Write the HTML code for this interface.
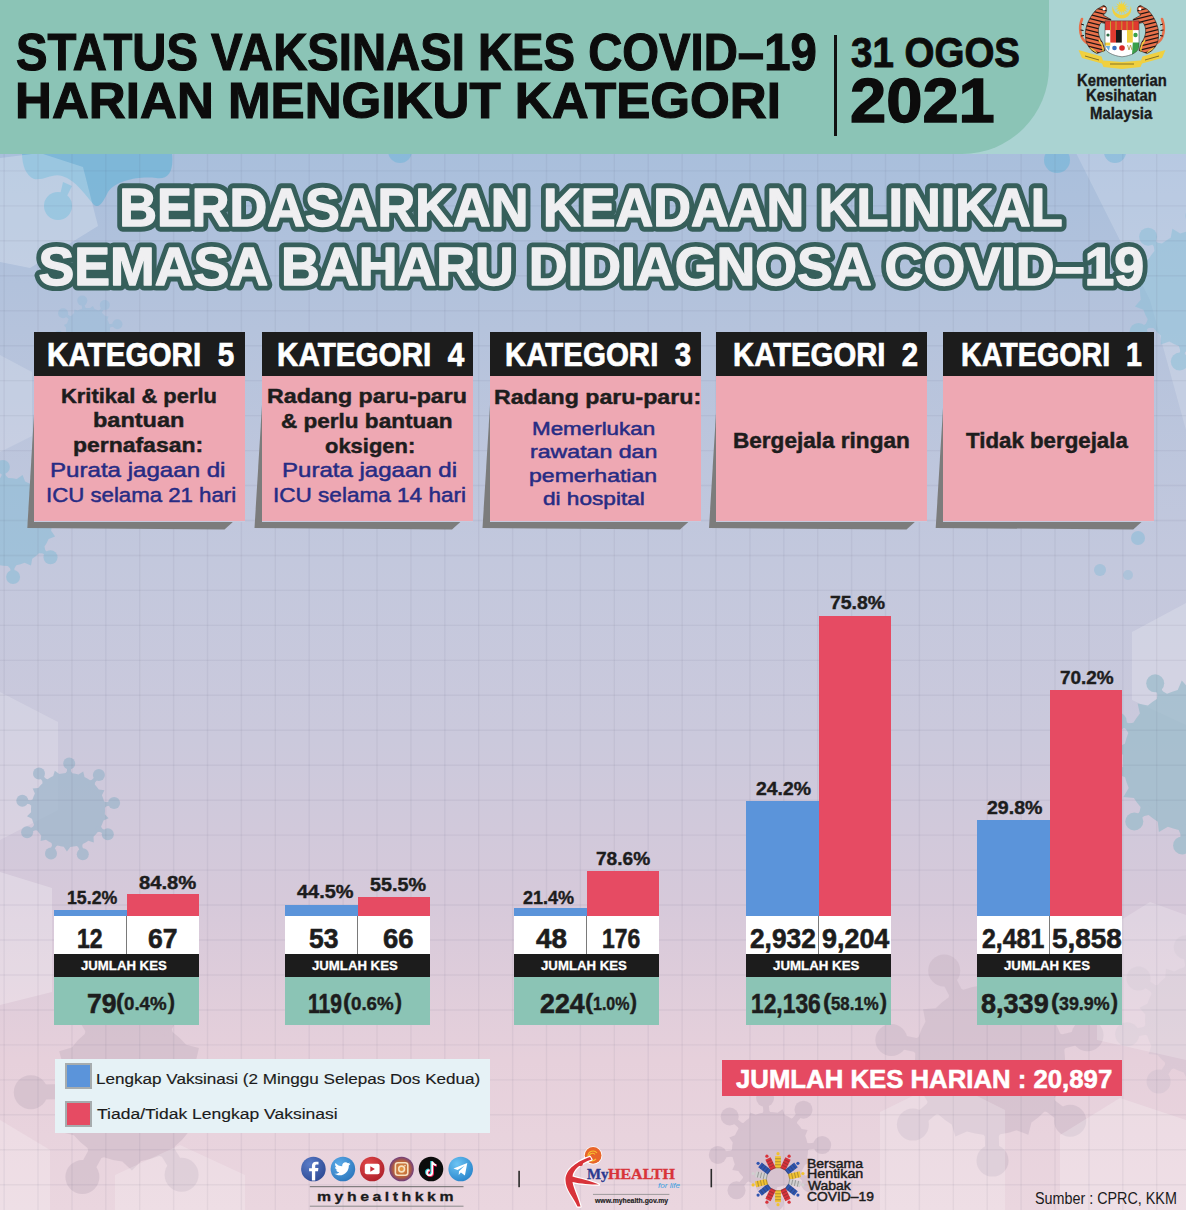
<!DOCTYPE html>
<html><head><meta charset="utf-8">
<style>
html,body{margin:0;padding:0;}
body{width:1186px;height:1210px;position:relative;overflow:hidden;font-family:"Liberation Sans",sans-serif;
background:linear-gradient(180deg,#a9bfdc 0px,#a9bfdc 150px,#b5c3dc 330px,#c3c8dd 560px,#cbc9dc 740px,#d6c9da 900px,#e6d0db 1060px,#ead6df 1210px);}
.t{position:absolute;white-space:nowrap;line-height:1;transform-origin:0 0;}
.a{position:absolute;}
#hdr{position:absolute;left:0;top:0;width:1186px;height:153.8px;background:#aad3d2;}
#hdr2{position:absolute;left:0;top:0;width:1049px;height:153.8px;background:#8bc4b6;border-bottom-right-radius:87px;}
.hd{position:absolute;top:331.5px;width:210.8px;height:44.5px;background:#1c1c1c;}
.pk{position:absolute;top:376px;width:210.8px;height:144.5px;background:#eea8b3;}
.gp{position:absolute;top:520.5px;width:210.8px;height:1.5px;background:#c5cbdf;}
.bl{position:absolute;background:#5b94da;}
.rd{position:absolute;background:#e64b63;}
.wc{position:absolute;top:916px;width:145px;height:38px;background:#fff;}
.dv{position:absolute;top:916px;width:1.2px;height:38px;background:#7a7a7a;}
.bk{position:absolute;top:954px;width:145px;height:23px;background:#1c1c1c;}
.tl{position:absolute;top:977px;width:145px;height:48px;background:#8bc4b5;}
</style></head><body>
<svg class="a" style="left:0;top:0" width="1186" height="1210">
<g fill="#74b6d8" opacity=".8"><path d="M22 153C22 165 26 176 34 179C44 181 52 173 62 176C76 180 86 196 94 205C100 209 104 200 108 192C116 180 140 176 156 178C168 180 174 172 172 153Z"/><path d="M63 182L72 186 66 198 60 195Z"/><circle cx="58" cy="206" r="14"/></g>
<polygon points="0,158 40,153 83,167 98,226 30,268 0,262" fill="#ffffff" opacity=".22"/>
<circle cx="400" cy="151" r="12" fill="#74b6d8" opacity=".6"/>
<g fill="#8ab8d8" stroke="#8ab8d8" opacity="0.35">
<polygon points="112.1,334.9 109.0,336.5 108.3,338.5 107.4,340.4 108.4,343.8 105.0,344.0 103.5,345.6 101.9,347.1 101.6,350.5 98.3,349.4 96.3,350.4 94.3,351.1 92.7,354.2 90.1,351.9 87.9,352.0 85.8,351.9 83.1,354.1 81.5,351.0 79.5,350.3 77.6,349.4 74.2,350.4 74.0,347.0 72.4,345.5 70.9,343.9 67.5,343.6 68.6,340.3 67.6,338.3 66.9,336.3 63.8,334.7 66.1,332.1 66.0,329.9 66.1,327.8 63.9,325.1 67.0,323.5 67.7,321.5 68.6,319.6 67.6,316.2 71.0,316.0 72.5,314.4 74.1,312.9 74.4,309.5 77.7,310.6 79.7,309.6 81.7,308.9 83.3,305.8 85.9,308.1 88.1,308.0 90.2,308.1 92.9,305.9 94.5,309.0 96.5,309.7 98.4,310.6 101.8,309.6 102.0,313.0 103.6,314.5 105.1,316.1 108.5,316.4 107.4,319.7 108.4,321.7 109.1,323.7 112.2,325.3 109.9,327.9 110.0,330.1 109.9,332.2" stroke="none"/>
<line x1="104.4" y1="341.1" x2="112.9" y2="346.8" stroke-width="3.0"/>
<circle cx="112.9" cy="346.8" r="5.0" stroke="none"/>
<line x1="91.8" y1="349.4" x2="93.7" y2="359.4" stroke-width="3.0"/>
<circle cx="93.7" cy="359.4" r="5.0" stroke="none"/>
<line x1="76.9" y1="346.4" x2="71.2" y2="354.9" stroke-width="3.0"/>
<circle cx="71.2" cy="354.9" r="5.0" stroke="none"/>
<line x1="68.6" y1="333.8" x2="58.6" y2="335.7" stroke-width="3.0"/>
<circle cx="58.6" cy="335.7" r="5.0" stroke="none"/>
<line x1="71.6" y1="318.9" x2="63.1" y2="313.2" stroke-width="3.0"/>
<circle cx="63.1" cy="313.2" r="5.0" stroke="none"/>
<line x1="84.2" y1="310.6" x2="82.3" y2="300.6" stroke-width="3.0"/>
<circle cx="82.3" cy="300.6" r="5.0" stroke="none"/>
<line x1="99.1" y1="313.6" x2="104.8" y2="305.1" stroke-width="3.0"/>
<circle cx="104.8" cy="305.1" r="5.0" stroke="none"/>
<line x1="107.4" y1="326.2" x2="117.4" y2="324.3" stroke-width="3.0"/>
<circle cx="117.4" cy="324.3" r="5.0" stroke="none"/>
</g>
<polygon points="0,355 32,372 32,436 0,452" fill="#ffffff" opacity=".17"/>
<polygon points="1076,153 1186,153 1186,430 1150,300" fill="#ffffff" opacity=".17"/>
<g fill="#8cc0d8" stroke="#8cc0d8" opacity="0.55">
<polygon points="1266.9,296.7 1259.0,301.2 1257.8,306.3 1256.1,311.2 1260.5,319.2 1251.6,320.7 1248.7,325.0 1245.5,329.1 1246.9,338.1 1238.0,336.5 1233.8,339.6 1229.3,342.3 1227.6,351.3 1219.8,346.6 1214.8,348.1 1209.7,349.2 1205.0,357.0 1199.2,350.0 1194.0,349.7 1188.8,349.0 1181.8,354.7 1178.8,346.1 1174.0,344.1 1169.3,341.6 1160.8,344.6 1160.9,335.5 1157.0,331.9 1153.5,328.0 1144.5,327.8 1147.7,319.3 1145.3,314.7 1143.4,309.8 1134.9,306.6 1140.8,299.7 1140.2,294.5 1140.0,289.2 1133.1,283.3 1141.0,278.8 1142.2,273.7 1143.9,268.8 1139.5,260.8 1148.4,259.3 1151.3,255.0 1154.5,250.9 1153.1,241.9 1162.0,243.5 1166.2,240.4 1170.7,237.7 1172.4,228.7 1180.2,233.4 1185.2,231.9 1190.3,230.8 1195.0,223.0 1200.8,230.0 1206.0,230.3 1211.2,231.0 1218.2,225.3 1221.2,233.9 1226.0,235.9 1230.7,238.4 1239.2,235.4 1239.1,244.5 1243.0,248.1 1246.5,252.0 1255.5,252.2 1252.3,260.7 1254.7,265.3 1256.6,270.2 1265.1,273.4 1259.2,280.3 1259.8,285.5 1260.0,290.8" stroke="none"/>
<line x1="1248.6" y1="313.4" x2="1267.0" y2="322.3" stroke-width="5.0"/>
<circle cx="1267.0" cy="322.3" r="9.0" stroke="none"/>
<line x1="1222.2" y1="339.2" x2="1230.6" y2="357.8" stroke-width="5.0"/>
<circle cx="1230.6" cy="357.8" r="9.0" stroke="none"/>
<line x1="1185.4" y1="342.0" x2="1179.8" y2="361.6" stroke-width="5.0"/>
<circle cx="1179.8" cy="361.6" r="9.0" stroke="none"/>
<line x1="1155.4" y1="320.4" x2="1138.5" y2="331.9" stroke-width="5.0"/>
<circle cx="1138.5" cy="331.9" r="9.0" stroke="none"/>
<line x1="1146.3" y1="284.6" x2="1126.0" y2="282.6" stroke-width="5.0"/>
<circle cx="1126.0" cy="282.6" r="9.0" stroke="none"/>
<line x1="1162.3" y1="251.3" x2="1148.1" y2="236.7" stroke-width="5.0"/>
<circle cx="1148.1" cy="236.7" r="9.0" stroke="none"/>
<line x1="1196.0" y1="236.1" x2="1194.5" y2="215.8" stroke-width="5.0"/>
<circle cx="1194.5" cy="215.8" r="9.0" stroke="none"/>
<line x1="1231.5" y1="246.2" x2="1243.4" y2="229.6" stroke-width="5.0"/>
<circle cx="1243.4" cy="229.6" r="9.0" stroke="none"/>
<line x1="1252.3" y1="276.7" x2="1272.1" y2="271.7" stroke-width="5.0"/>
<circle cx="1272.1" cy="271.7" r="9.0" stroke="none"/>
</g>
<circle cx="1057" cy="160" r="13" fill="#6fb6d8" opacity=".6"/><circle cx="1115" cy="152" r="11" fill="#6fb6d8" opacity=".5"/>
<circle cx="1138" cy="538" r="7" fill="#8cbcd8" opacity=".6"/><circle cx="1100" cy="570" r="6" fill="#8cbcd8" opacity=".5"/><circle cx="1128" cy="575" r="5" fill="#8cbcd8" opacity=".4"/>
<g fill="#86bcd6" stroke="#86bcd6" opacity="0.55">
<polygon points="55.1,536.6 48.6,539.1 46.7,543.0 44.5,546.6 45.9,553.5 38.9,553.3 35.7,556.2 32.2,558.7 31.0,565.6 24.6,562.7 20.5,564.2 16.3,565.2 12.6,571.1 7.8,566.0 3.4,565.8 -0.8,565.1 -6.6,569.1 -9.1,562.6 -13.0,560.7 -16.6,558.5 -23.5,559.9 -23.3,552.9 -26.2,549.7 -28.7,546.2 -35.6,545.0 -32.7,538.6 -34.2,534.5 -35.2,530.3 -41.1,526.6 -36.0,521.8 -35.8,517.4 -35.1,513.2 -39.1,507.4 -32.6,504.9 -30.7,501.0 -28.5,497.4 -29.9,490.5 -22.9,490.7 -19.7,487.8 -16.2,485.3 -15.0,478.4 -8.6,481.3 -4.5,479.8 -0.3,478.8 3.4,472.9 8.2,478.0 12.6,478.2 16.8,478.9 22.6,474.9 25.1,481.4 29.0,483.3 32.6,485.5 39.5,484.1 39.3,491.1 42.2,494.3 44.7,497.8 51.6,499.0 48.7,505.4 50.2,509.5 51.2,513.7 57.1,517.4 52.0,522.2 51.8,526.6 51.1,530.8" stroke="none"/>
<line x1="38.5" y1="547.3" x2="50.5" y2="557.3" stroke-width="4.0"/>
<circle cx="50.5" cy="557.3" r="7.0" stroke="none"/>
<line x1="11.7" y1="561.4" x2="13.1" y2="577.0" stroke-width="4.0"/>
<circle cx="13.1" cy="577.0" r="7.0" stroke="none"/>
<line x1="-17.3" y1="552.5" x2="-27.3" y2="564.5" stroke-width="4.0"/>
<circle cx="-27.3" cy="564.5" r="7.0" stroke="none"/>
<line x1="-31.4" y1="525.7" x2="-47.0" y2="527.1" stroke-width="4.0"/>
<circle cx="-47.0" cy="527.1" r="7.0" stroke="none"/>
<line x1="-22.5" y1="496.7" x2="-34.5" y2="486.7" stroke-width="4.0"/>
<circle cx="-34.5" cy="486.7" r="7.0" stroke="none"/>
<line x1="4.3" y1="482.6" x2="2.9" y2="467.0" stroke-width="4.0"/>
<circle cx="2.9" cy="467.0" r="7.0" stroke="none"/>
<line x1="33.3" y1="491.5" x2="43.3" y2="479.5" stroke-width="4.0"/>
<circle cx="43.3" cy="479.5" r="7.0" stroke="none"/>
<line x1="47.4" y1="518.3" x2="63.0" y2="516.9" stroke-width="4.0"/>
<circle cx="63.0" cy="516.9" r="7.0" stroke="none"/>
</g>
<polygon points="0,692 58,722 58,810 0,840" fill="#ffffff" opacity=".18"/>
<g fill="#9fb7cc" stroke="#9fb7cc" opacity="0.75">
<polygon points="108.6,818.2 103.5,820.5 102.4,823.5 101.1,826.5 103.3,831.6 97.8,832.0 95.7,834.5 93.5,836.8 93.8,842.4 88.4,840.8 85.7,842.5 82.8,843.9 81.2,849.3 76.7,846.0 73.5,846.6 70.3,846.9 66.9,851.4 63.8,846.8 60.6,846.3 57.5,845.5 52.8,848.6 51.5,843.1 48.7,841.6 46.0,839.8 40.6,841.1 41.2,835.5 39.1,833.1 37.2,830.4 31.6,829.8 34.1,824.8 32.9,821.8 32.0,818.7 27.0,816.2 31.1,812.3 31.0,809.1 31.2,805.8 27.4,801.8 32.5,799.5 33.6,796.5 34.9,793.5 32.7,788.4 38.2,788.0 40.3,785.5 42.5,783.2 42.2,777.6 47.6,779.2 50.3,777.5 53.2,776.1 54.8,770.7 59.3,774.0 62.5,773.4 65.7,773.1 69.1,768.6 72.2,773.2 75.4,773.7 78.5,774.5 83.2,771.4 84.5,776.9 87.3,778.4 90.0,780.2 95.4,778.9 94.8,784.5 96.9,786.9 98.8,789.6 104.4,790.2 101.9,795.2 103.1,798.2 104.0,801.3 109.0,803.8 104.9,807.7 105.0,810.9 104.8,814.2" stroke="none"/>
<line x1="96.4" y1="827.4" x2="107.8" y2="834.3" stroke-width="4.0"/>
<circle cx="107.8" cy="834.3" r="6.0" stroke="none"/>
<line x1="78.6" y1="841.6" x2="82.8" y2="854.2" stroke-width="4.0"/>
<circle cx="82.8" cy="854.2" r="6.0" stroke="none"/>
<line x1="55.8" y1="841.0" x2="51.0" y2="853.4" stroke-width="4.0"/>
<circle cx="51.0" cy="853.4" r="6.0" stroke="none"/>
<line x1="38.7" y1="825.9" x2="27.1" y2="832.3" stroke-width="4.0"/>
<circle cx="27.1" cy="832.3" r="6.0" stroke="none"/>
<line x1="35.4" y1="803.4" x2="22.3" y2="800.7" stroke-width="4.0"/>
<circle cx="22.3" cy="800.7" r="6.0" stroke="none"/>
<line x1="47.3" y1="784.0" x2="39.0" y2="773.6" stroke-width="4.0"/>
<circle cx="39.0" cy="773.6" r="6.0" stroke="none"/>
<line x1="68.8" y1="776.7" x2="69.2" y2="763.4" stroke-width="4.0"/>
<circle cx="69.2" cy="763.4" r="6.0" stroke="none"/>
<line x1="90.0" y1="785.0" x2="98.9" y2="775.1" stroke-width="4.0"/>
<circle cx="98.9" cy="775.1" r="6.0" stroke="none"/>
<line x1="100.9" y1="805.1" x2="114.1" y2="803.1" stroke-width="4.0"/>
<circle cx="114.1" cy="803.1" r="6.0" stroke="none"/>
</g>
<polygon points="1132,632 1186,603 1186,725 1132,700" fill="#ffffff" opacity=".2"/>
<g fill="#9cbccb" stroke="#9cbccb" opacity="0.75">
<polygon points="1274.7,772.1 1265.1,776.3 1263.6,781.8 1261.7,787.1 1267.1,796.1 1256.7,797.2 1253.5,801.9 1250.1,806.4 1252.4,816.6 1242.1,814.4 1237.7,817.9 1233.1,821.1 1232.1,831.6 1223.0,826.3 1217.7,828.3 1212.3,829.9 1208.2,839.6 1201.2,831.7 1195.5,832.0 1189.9,831.8 1182.9,839.7 1178.7,830.1 1173.2,828.6 1167.9,826.7 1158.9,832.1 1157.8,821.7 1153.1,818.5 1148.6,815.1 1138.4,817.4 1140.6,807.1 1137.1,802.7 1133.9,798.1 1123.4,797.1 1128.7,788.0 1126.7,782.7 1125.1,777.3 1115.4,773.2 1123.3,766.2 1123.0,760.5 1123.2,754.9 1115.3,747.9 1124.9,743.7 1126.4,738.2 1128.3,732.9 1122.9,723.9 1133.3,722.8 1136.5,718.1 1139.9,713.6 1137.6,703.4 1147.9,705.6 1152.3,702.1 1156.9,698.9 1157.9,688.4 1167.0,693.7 1172.3,691.7 1177.7,690.1 1181.8,680.4 1188.8,688.3 1194.5,688.0 1200.1,688.2 1207.1,680.3 1211.3,689.9 1216.8,691.4 1222.1,693.3 1231.1,687.9 1232.2,698.3 1236.9,701.5 1241.4,704.9 1251.6,702.6 1249.4,712.9 1252.9,717.3 1256.1,721.9 1266.6,722.9 1261.3,732.0 1263.3,737.3 1264.9,742.7 1274.6,746.8 1266.7,753.8 1267.0,759.5 1266.8,765.1" stroke="none"/>
<line x1="1252.9" y1="789.0" x2="1272.3" y2="798.7" stroke-width="6.0"/>
<circle cx="1272.3" cy="798.7" r="9.0" stroke="none"/>
<line x1="1224.8" y1="817.5" x2="1234.8" y2="836.7" stroke-width="6.0"/>
<circle cx="1234.8" cy="836.7" r="9.0" stroke="none"/>
<line x1="1185.3" y1="824.1" x2="1182.1" y2="845.4" stroke-width="6.0"/>
<circle cx="1182.1" cy="845.4" r="9.0" stroke="none"/>
<line x1="1149.5" y1="806.1" x2="1134.3" y2="821.5" stroke-width="6.0"/>
<circle cx="1134.3" cy="821.5" r="9.0" stroke="none"/>
<line x1="1131.1" y1="770.6" x2="1109.8" y2="774.1" stroke-width="6.0"/>
<circle cx="1109.8" cy="774.1" r="9.0" stroke="none"/>
<line x1="1137.1" y1="731.0" x2="1117.7" y2="721.3" stroke-width="6.0"/>
<circle cx="1117.7" cy="721.3" r="9.0" stroke="none"/>
<line x1="1165.2" y1="702.5" x2="1155.2" y2="683.3" stroke-width="6.0"/>
<circle cx="1155.2" cy="683.3" r="9.0" stroke="none"/>
<line x1="1204.7" y1="695.9" x2="1207.9" y2="674.6" stroke-width="6.0"/>
<circle cx="1207.9" cy="674.6" r="9.0" stroke="none"/>
<line x1="1240.5" y1="713.9" x2="1255.7" y2="698.5" stroke-width="6.0"/>
<circle cx="1255.7" cy="698.5" r="9.0" stroke="none"/>
<line x1="1258.9" y1="749.4" x2="1280.2" y2="745.9" stroke-width="6.0"/>
<circle cx="1280.2" cy="745.9" r="9.0" stroke="none"/>
</g>
<polygon points="0,872 52,888 52,992 0,1005" fill="#ffffff" opacity=".25"/>
<g fill="#c9b6c4" stroke="#c9b6c4" opacity="0.5">
<polygon points="200.8,1128.7 188.1,1132.5 182.1,1139.7 175.2,1146.1 172.0,1158.9 159.1,1155.9 150.3,1159.1 141.1,1161.1 131.9,1170.6 122.3,1161.6 113.0,1160.0 104.0,1157.2 91.3,1160.8 87.5,1148.1 80.3,1142.1 73.9,1135.2 61.1,1132.0 64.1,1119.1 60.9,1110.3 58.9,1101.1 49.4,1091.9 58.4,1082.3 60.0,1073.0 62.8,1064.0 59.2,1051.3 71.9,1047.5 77.9,1040.3 84.8,1033.9 88.0,1021.1 100.9,1024.1 109.7,1020.9 118.9,1018.9 128.1,1009.4 137.7,1018.4 147.0,1020.0 156.0,1022.8 168.7,1019.2 172.5,1031.9 179.7,1037.9 186.1,1044.8 198.9,1048.0 195.9,1060.9 199.1,1069.7 201.1,1078.9 210.6,1088.1 201.6,1097.7 200.0,1107.0 197.2,1116.0" stroke="none"/>
<line x1="163.7" y1="1145.3" x2="181.6" y2="1174.7" stroke-width="15.0"/>
<circle cx="181.6" cy="1174.7" r="17.0" stroke="none"/>
<line x1="98.9" y1="1146.9" x2="82.4" y2="1177.1" stroke-width="15.0"/>
<circle cx="82.4" cy="1177.1" r="17.0" stroke="none"/>
<line x1="65.2" y1="1091.5" x2="30.8" y2="1092.3" stroke-width="15.0"/>
<circle cx="30.8" cy="1092.3" r="17.0" stroke="none"/>
<line x1="96.3" y1="1034.7" x2="78.4" y2="1005.3" stroke-width="15.0"/>
<circle cx="78.4" cy="1005.3" r="17.0" stroke="none"/>
<line x1="161.1" y1="1033.1" x2="177.6" y2="1002.9" stroke-width="15.0"/>
<circle cx="177.6" cy="1002.9" r="17.0" stroke="none"/>
<line x1="194.8" y1="1088.5" x2="229.2" y2="1087.7" stroke-width="15.0"/>
<circle cx="229.2" cy="1087.7" r="17.0" stroke="none"/>
</g>
<polygon points="0,1120 50,1150 50,1210 0,1210" fill="#ffffff" opacity=".22"/>
<polygon points="115,1175 180,1145 245,1175 245,1210 115,1210" fill="#ffffff" opacity=".2"/>
<g fill="#c9b7c6" stroke="#c9b7c6" opacity="0.5">
<polygon points="1072.3,1076.7 1061.4,1083.0 1058.3,1090.9 1054.5,1098.3 1056.9,1110.8 1044.3,1111.7 1038.2,1117.5 1031.4,1122.5 1028.3,1134.8 1016.5,1130.2 1008.5,1132.7 1000.2,1134.3 992.0,1144.0 983.4,1134.7 975.1,1133.5 967.0,1131.4 955.4,1136.5 951.7,1124.5 944.7,1119.8 938.3,1114.3 925.6,1114.0 927.5,1101.4 923.2,1094.2 919.8,1086.5 908.6,1080.7 915.7,1070.2 915.0,1061.8 915.3,1053.4 907.7,1043.3 918.6,1037.0 921.7,1029.1 925.5,1021.7 923.1,1009.2 935.7,1008.3 941.8,1002.5 948.6,997.5 951.7,985.2 963.5,989.8 971.5,987.3 979.8,985.7 988.0,976.0 996.6,985.3 1004.9,986.5 1013.0,988.6 1024.6,983.5 1028.3,995.5 1035.3,1000.2 1041.7,1005.7 1054.4,1006.0 1052.5,1018.6 1056.8,1025.8 1060.2,1033.5 1071.4,1039.3 1064.3,1049.8 1065.0,1058.2 1064.7,1066.6" stroke="none"/>
<line x1="1043.8" y1="1100.8" x2="1070.2" y2="1120.8" stroke-width="14.0"/>
<circle cx="1070.2" cy="1120.8" r="16.0" stroke="none"/>
<line x1="991.6" y1="1127.5" x2="992.5" y2="1160.6" stroke-width="14.0"/>
<circle cx="992.5" cy="1160.6" r="16.0" stroke="none"/>
<line x1="938.3" y1="1103.4" x2="912.9" y2="1124.6" stroke-width="14.0"/>
<circle cx="912.9" cy="1124.6" r="16.0" stroke="none"/>
<line x1="923.8" y1="1046.6" x2="891.4" y2="1040.0" stroke-width="14.0"/>
<circle cx="891.4" cy="1040.0" r="16.0" stroke="none"/>
<line x1="959.2" y1="999.9" x2="944.2" y2="970.5" stroke-width="14.0"/>
<circle cx="944.2" cy="970.5" r="16.0" stroke="none"/>
<line x1="1017.8" y1="998.5" x2="1031.4" y2="968.3" stroke-width="14.0"/>
<circle cx="1031.4" cy="968.3" r="16.0" stroke="none"/>
<line x1="1055.4" y1="1043.4" x2="1087.5" y2="1035.2" stroke-width="14.0"/>
<circle cx="1087.5" cy="1035.2" r="16.0" stroke="none"/>
</g>
<g fill="#c6b2c2" stroke="#c6b2c2" opacity="0.5">
<polygon points="810.7,1162.6 805.0,1164.7 803.4,1168.1 801.5,1171.3 802.8,1177.2 796.7,1177.0 793.9,1179.5 790.9,1181.7 789.9,1187.6 784.3,1185.2 780.8,1186.4 777.2,1187.3 773.9,1192.4 769.8,1188.0 766.1,1187.8 762.4,1187.2 757.4,1190.7 755.3,1185.0 751.9,1183.4 748.7,1181.5 742.8,1182.8 743.0,1176.7 740.5,1173.9 738.3,1170.9 732.4,1169.9 734.8,1164.3 733.6,1160.8 732.7,1157.2 727.6,1153.9 732.0,1149.8 732.2,1146.1 732.8,1142.4 729.3,1137.4 735.0,1135.3 736.6,1131.9 738.5,1128.7 737.2,1122.8 743.3,1123.0 746.1,1120.5 749.1,1118.3 750.1,1112.4 755.7,1114.8 759.2,1113.6 762.8,1112.7 766.1,1107.6 770.2,1112.0 773.9,1112.2 777.6,1112.8 782.6,1109.3 784.7,1115.0 788.1,1116.6 791.3,1118.5 797.2,1117.2 797.0,1123.3 799.5,1126.1 801.7,1129.1 807.6,1130.1 805.2,1135.7 806.4,1139.2 807.3,1142.8 812.4,1146.1 808.0,1150.2 807.8,1153.9 807.2,1157.6" stroke="none"/>
<line x1="796.3" y1="1171.8" x2="810.3" y2="1183.5" stroke-width="6.0"/>
<circle cx="810.3" cy="1183.5" r="9.0" stroke="none"/>
<line x1="773.2" y1="1184.1" x2="774.9" y2="1202.2" stroke-width="6.0"/>
<circle cx="774.9" cy="1202.2" r="9.0" stroke="none"/>
<line x1="748.2" y1="1176.3" x2="736.5" y2="1190.3" stroke-width="6.0"/>
<circle cx="736.5" cy="1190.3" r="9.0" stroke="none"/>
<line x1="735.9" y1="1153.2" x2="717.8" y2="1154.9" stroke-width="6.0"/>
<circle cx="717.8" cy="1154.9" r="9.0" stroke="none"/>
<line x1="743.7" y1="1128.2" x2="729.7" y2="1116.5" stroke-width="6.0"/>
<circle cx="729.7" cy="1116.5" r="9.0" stroke="none"/>
<line x1="766.8" y1="1115.9" x2="765.1" y2="1097.8" stroke-width="6.0"/>
<circle cx="765.1" cy="1097.8" r="9.0" stroke="none"/>
<line x1="791.8" y1="1123.7" x2="803.5" y2="1109.7" stroke-width="6.0"/>
<circle cx="803.5" cy="1109.7" r="9.0" stroke="none"/>
<line x1="804.1" y1="1146.8" x2="822.2" y2="1145.1" stroke-width="6.0"/>
<circle cx="822.2" cy="1145.1" r="9.0" stroke="none"/>
</g>
<polygon points="880,1112 945,1080 1005,1110 1005,1210 880,1210" fill="#ffffff" opacity=".2"/>
<polygon points="1060,1135 1120,1098 1186,1120 1186,1210 1060,1210" fill="#ffffff" opacity=".22"/>
<g fill="#c8bccb" stroke="#c8bccb" opacity="0.35">
<polygon points="1260.4,1032.2 1252.6,1036.2 1250.7,1041.2 1248.4,1046.1 1251.1,1054.4 1242.4,1055.0 1238.7,1059.0 1234.7,1062.6 1234.0,1071.3 1225.7,1068.6 1220.9,1070.9 1215.8,1072.7 1211.8,1080.5 1205.2,1074.8 1199.8,1075.0 1194.4,1074.7 1187.8,1080.4 1183.8,1072.6 1178.8,1070.7 1173.9,1068.4 1165.6,1071.1 1165.0,1062.4 1161.0,1058.7 1157.4,1054.7 1148.7,1054.0 1151.4,1045.7 1149.1,1040.9 1147.3,1035.8 1139.5,1031.8 1145.2,1025.2 1145.0,1019.8 1145.3,1014.4 1139.6,1007.8 1147.4,1003.8 1149.3,998.8 1151.6,993.9 1148.9,985.6 1157.6,985.0 1161.3,981.0 1165.3,977.4 1166.0,968.7 1174.3,971.4 1179.1,969.1 1184.2,967.3 1188.2,959.5 1194.8,965.2 1200.2,965.0 1205.6,965.3 1212.2,959.6 1216.2,967.4 1221.2,969.3 1226.1,971.6 1234.4,968.9 1235.0,977.6 1239.0,981.3 1242.6,985.3 1251.3,986.0 1248.6,994.3 1250.9,999.1 1252.7,1004.2 1260.5,1008.2 1254.8,1014.8 1255.0,1020.2 1254.7,1025.6" stroke="none"/>
<line x1="1241.1" y1="1047.7" x2="1261.5" y2="1061.4" stroke-width="8.0"/>
<circle cx="1261.5" cy="1061.4" r="12.0" stroke="none"/>
<line x1="1209.5" y1="1068.6" x2="1214.2" y2="1092.8" stroke-width="8.0"/>
<circle cx="1214.2" cy="1092.8" r="12.0" stroke="none"/>
<line x1="1172.3" y1="1061.1" x2="1158.6" y2="1081.5" stroke-width="8.0"/>
<circle cx="1158.6" cy="1081.5" r="12.0" stroke="none"/>
<line x1="1151.4" y1="1029.5" x2="1127.2" y2="1034.2" stroke-width="8.0"/>
<circle cx="1127.2" cy="1034.2" r="12.0" stroke="none"/>
<line x1="1158.9" y1="992.3" x2="1138.5" y2="978.6" stroke-width="8.0"/>
<circle cx="1138.5" cy="978.6" r="12.0" stroke="none"/>
<line x1="1190.5" y1="971.4" x2="1185.8" y2="947.2" stroke-width="8.0"/>
<circle cx="1185.8" cy="947.2" r="12.0" stroke="none"/>
<line x1="1227.7" y1="978.9" x2="1241.4" y2="958.5" stroke-width="8.0"/>
<circle cx="1241.4" cy="958.5" r="12.0" stroke="none"/>
<line x1="1248.6" y1="1010.5" x2="1272.8" y2="1005.8" stroke-width="8.0"/>
<circle cx="1272.8" cy="1005.8" r="12.0" stroke="none"/>
</g>
<polygon points="1097,935 1150,902 1186,915 1186,1060 1097,1040" fill="#ffffff" opacity=".2"/>
</svg>
<svg class="a" style="left:0;top:153px" width="1186" height="1057"><g stroke="rgb(80,70,110)" stroke-opacity=".065" stroke-width="1.4">
<line x1="4.10" y1="0" x2="4.10" y2="1057"/>
<line x1="38.00" y1="0" x2="38.00" y2="1057"/>
<line x1="71.90" y1="0" x2="71.90" y2="1057"/>
<line x1="105.80" y1="0" x2="105.80" y2="1057"/>
<line x1="139.70" y1="0" x2="139.70" y2="1057"/>
<line x1="173.60" y1="0" x2="173.60" y2="1057"/>
<line x1="207.50" y1="0" x2="207.50" y2="1057"/>
<line x1="241.40" y1="0" x2="241.40" y2="1057"/>
<line x1="275.30" y1="0" x2="275.30" y2="1057"/>
<line x1="309.20" y1="0" x2="309.20" y2="1057"/>
<line x1="343.10" y1="0" x2="343.10" y2="1057"/>
<line x1="377.00" y1="0" x2="377.00" y2="1057"/>
<line x1="410.90" y1="0" x2="410.90" y2="1057"/>
<line x1="444.80" y1="0" x2="444.80" y2="1057"/>
<line x1="478.70" y1="0" x2="478.70" y2="1057"/>
<line x1="512.60" y1="0" x2="512.60" y2="1057"/>
<line x1="546.50" y1="0" x2="546.50" y2="1057"/>
<line x1="580.40" y1="0" x2="580.40" y2="1057"/>
<line x1="614.30" y1="0" x2="614.30" y2="1057"/>
<line x1="648.20" y1="0" x2="648.20" y2="1057"/>
<line x1="682.10" y1="0" x2="682.10" y2="1057"/>
<line x1="716.00" y1="0" x2="716.00" y2="1057"/>
<line x1="749.90" y1="0" x2="749.90" y2="1057"/>
<line x1="783.80" y1="0" x2="783.80" y2="1057"/>
<line x1="817.70" y1="0" x2="817.70" y2="1057"/>
<line x1="851.60" y1="0" x2="851.60" y2="1057"/>
<line x1="885.50" y1="0" x2="885.50" y2="1057"/>
<line x1="919.40" y1="0" x2="919.40" y2="1057"/>
<line x1="953.30" y1="0" x2="953.30" y2="1057"/>
<line x1="987.20" y1="0" x2="987.20" y2="1057"/>
<line x1="1021.10" y1="0" x2="1021.10" y2="1057"/>
<line x1="1055.00" y1="0" x2="1055.00" y2="1057"/>
<line x1="1088.90" y1="0" x2="1088.90" y2="1057"/>
<line x1="1122.80" y1="0" x2="1122.80" y2="1057"/>
<line x1="1156.70" y1="0" x2="1156.70" y2="1057"/>
<line x1="0" y1="17.90" x2="1186" y2="17.90"/>
<line x1="0" y1="52.86" x2="1186" y2="52.86"/>
<line x1="0" y1="87.82" x2="1186" y2="87.82"/>
<line x1="0" y1="122.78" x2="1186" y2="122.78"/>
<line x1="0" y1="157.74" x2="1186" y2="157.74"/>
<line x1="0" y1="192.70" x2="1186" y2="192.70"/>
<line x1="0" y1="227.66" x2="1186" y2="227.66"/>
<line x1="0" y1="262.62" x2="1186" y2="262.62"/>
<line x1="0" y1="297.58" x2="1186" y2="297.58"/>
<line x1="0" y1="332.54" x2="1186" y2="332.54"/>
<line x1="0" y1="367.50" x2="1186" y2="367.50"/>
<line x1="0" y1="402.46" x2="1186" y2="402.46"/>
<line x1="0" y1="437.42" x2="1186" y2="437.42"/>
<line x1="0" y1="472.38" x2="1186" y2="472.38"/>
<line x1="0" y1="507.34" x2="1186" y2="507.34"/>
<line x1="0" y1="542.30" x2="1186" y2="542.30"/>
<line x1="0" y1="577.26" x2="1186" y2="577.26"/>
<line x1="0" y1="612.22" x2="1186" y2="612.22"/>
<line x1="0" y1="647.18" x2="1186" y2="647.18"/>
<line x1="0" y1="682.14" x2="1186" y2="682.14"/>
<line x1="0" y1="717.10" x2="1186" y2="717.10"/>
<line x1="0" y1="752.06" x2="1186" y2="752.06"/>
<line x1="0" y1="787.02" x2="1186" y2="787.02"/>
<line x1="0" y1="821.98" x2="1186" y2="821.98"/>
<line x1="0" y1="856.94" x2="1186" y2="856.94"/>
<line x1="0" y1="891.90" x2="1186" y2="891.90"/>
<line x1="0" y1="926.86" x2="1186" y2="926.86"/>
<line x1="0" y1="961.82" x2="1186" y2="961.82"/>
<line x1="0" y1="996.78" x2="1186" y2="996.78"/>
<line x1="0" y1="1031.74" x2="1186" y2="1031.74"/>
</g></svg>
<div id="hdr"></div>
<div id="hdr2"></div>
<div class="a" style="left:834px;top:35.4px;width:2.6px;height:100.6px;background:#111;"></div>
<!--LOGO-->
<svg class="a" style="left:0;top:0" width="1186" height="330"><g font-family="Liberation Sans" font-weight="bold">
<text transform="translate(119.2,226.3) scale(0.9591,1)" font-size="54.49" fill="none" stroke="#365f5b" stroke-width="11.47" stroke-linejoin="round">BERDASARKAN KEADAAN KLINIKAL</text>
<text transform="translate(119.2,226.3) scale(0.9591,1)" font-size="54.49" fill="#efeff1" stroke="#efeff1" stroke-width="1.36" stroke-linejoin="round">BERDASARKAN KEADAAN KLINIKAL</text>
<text transform="translate(38.5,284.7) scale(0.9908,1)" font-size="54.20" fill="none" stroke="#365f5b" stroke-width="11.10" stroke-linejoin="round">SEMASA BAHARU DIDIAGNOSA COVID&#8211;19</text>
<text transform="translate(38.5,284.7) scale(0.9908,1)" font-size="54.20" fill="#efeff1" stroke="#efeff1" stroke-width="1.31" stroke-linejoin="round">SEMASA BAHARU DIDIAGNOSA COVID&#8211;19</text>
</g></svg>
<svg class="a" style="left:0;top:0" width="1186" height="1210">
<g fill="#7c7c7c">
<polygon points="34.5,405 27.3,528 224.5,529.5 234.5,520.5 234.5,405"/>
<polygon points="262,405 254.5,528 452,529.5 462,520.5 462,405"/>
<polygon points="490,405 482.5,528 680,529.5 690,520.5 690,405"/>
<polygon points="716.5,405 709,528 906.5,529.5 916.5,520.5 916.5,405"/>
<polygon points="943.2,405 935.7,528 1133.2,529.5 1143.2,520.5 1143.2,405"/>
</g></svg>
<div class="hd" style="left:34.4px"></div><div class="pk" style="left:34.4px"></div><div class="gp" style="left:34.4px"></div>
<div class="hd" style="left:262.1px"></div><div class="pk" style="left:262.1px"></div><div class="gp" style="left:262.1px"></div>
<div class="hd" style="left:490px"></div><div class="pk" style="left:490px"></div><div class="gp" style="left:490px"></div>
<div class="hd" style="left:716.4px"></div><div class="pk" style="left:716.4px"></div><div class="gp" style="left:716.4px"></div>
<div class="hd" style="left:943.2px"></div><div class="pk" style="left:943.2px"></div><div class="gp" style="left:943.2px"></div>
<div class="bl" style="left:54px;top:910px;width:72.6px;height:6.0px"></div>
<div class="rd" style="left:126.6px;top:894px;width:72.4px;height:22.0px"></div>
<div class="wc" style="left:54px"></div><div class="dv" style="left:126.0px"></div>
<div class="bk" style="left:54px"></div><div class="tl" style="left:54px"></div>
<div class="bl" style="left:285px;top:905px;width:72.6px;height:11.0px"></div>
<div class="rd" style="left:357.6px;top:896.5px;width:72.4px;height:19.5px"></div>
<div class="wc" style="left:285px"></div><div class="dv" style="left:357.0px"></div>
<div class="bk" style="left:285px"></div><div class="tl" style="left:285px"></div>
<div class="bl" style="left:514px;top:908px;width:72.6px;height:8.0px"></div>
<div class="rd" style="left:586.6px;top:871px;width:72.4px;height:45.0px"></div>
<div class="wc" style="left:514px"></div><div class="dv" style="left:586.0px"></div>
<div class="bk" style="left:514px"></div><div class="tl" style="left:514px"></div>
<div class="bl" style="left:746px;top:801px;width:72.6px;height:115.0px"></div>
<div class="rd" style="left:818.6px;top:616px;width:72.4px;height:300.0px"></div>
<div class="wc" style="left:746px"></div><div class="dv" style="left:818.0px"></div>
<div class="bk" style="left:746px"></div><div class="tl" style="left:746px"></div>
<div class="bl" style="left:977px;top:819.5px;width:72.6px;height:96.5px"></div>
<div class="rd" style="left:1049.6px;top:689.6px;width:72.4px;height:226.4px"></div>
<div class="wc" style="left:977px"></div><div class="dv" style="left:1049.0px"></div>
<div class="bk" style="left:977px"></div><div class="tl" style="left:977px"></div>
<div class="a" style="left:54.7px;top:1058.5px;width:435.3px;height:74.1px;background:#e6f2f6;"></div>
<div class="a" style="left:65.2px;top:1063.1px;width:22.4px;height:22.4px;background:#5b94da;border:2.1px solid #a6acae;"></div>
<div class="a" style="left:65.2px;top:1100.9px;width:22.4px;height:22.4px;background:#e64b63;border:2.1px solid #a6acae;"></div>
<div class="a" style="left:722.1px;top:1060.1px;width:399.7px;height:35.8px;background:#e54a62;"></div>
<svg class="a" style="left:0;top:0" width="1186" height="1210">
<defs><radialGradient id="fbg" cx="35%" cy="30%" r="75%"><stop offset="0" stop-color="#5a7cc8"/><stop offset="1" stop-color="#2e4b95"/></radialGradient><radialGradient id="twg" cx="35%" cy="30%" r="75%"><stop offset="0" stop-color="#5aaae8"/><stop offset="1" stop-color="#2d78bd"/></radialGradient><radialGradient id="ytg" cx="35%" cy="30%" r="75%"><stop offset="0" stop-color="#e04848"/><stop offset="1" stop-color="#b0222c"/></radialGradient><radialGradient id="igg" cx="50%" cy="50%" r="55%"><stop offset="0" stop-color="#e89a40"/><stop offset=".6" stop-color="#b8603a"/><stop offset="1" stop-color="#5a3490"/></radialGradient><radialGradient id="tgg" cx="35%" cy="30%" r="75%"><stop offset="0" stop-color="#6cc4f4"/><stop offset="1" stop-color="#2a86cc"/></radialGradient></defs>
<circle cx="313.4" cy="1169" r="12.3" fill="url(#fbg)"/>
<path d="M315.2 1180.5v-9.3h2.8l.4-3.1h-3.2v-2c0-.9.3-1.5 1.6-1.5h1.7v-2.8c-.3 0-1.3-.1-2.5-.1-2.4 0-4.1 1.5-4.1 4.2v2.3h-2.8v3.1h2.8v9.3z" fill="#fff"/>
<circle cx="342.9" cy="1169" r="12.3" fill="url(#twg)"/>
<path d="M350.5 1163.8c-.6.3-1.2.4-1.9.5.7-.4 1.2-1 1.4-1.8-.6.4-1.3.6-2.1.8-.6-.6-1.5-1-2.4-1-1.8 0-3.3 1.5-3.3 3.3 0 .3 0 .5.1.7-2.7-.1-5.2-1.4-6.8-3.4-.3.5-.4 1-.4 1.7 0 1.1.6 2.2 1.5 2.7-.5 0-1-.2-1.5-.4 0 1.6 1.1 2.9 2.6 3.2-.3.1-.6.1-.9.1-.2 0-.4 0-.6-.1.4 1.3 1.6 2.3 3.1 2.3-1.1.9-2.6 1.4-4.1 1.4h-.8c1.5.9 3.2 1.5 5 1.5 6.1 0 9.4-5 9.4-9.4v-.4c.7-.5 1.2-1.1 1.7-1.7z" fill="#fff"/>
<circle cx="372.2" cy="1169" r="12.3" fill="url(#ytg)"/>
<rect x="364.8" y="1163.8" width="14.8" height="10.4" rx="2" fill="#fff"/><path d="M370.3 1166.3v5.4l4.6-2.7z" fill="#c8303a"/>
<circle cx="401.6" cy="1169" r="12.3" fill="url(#igg)"/>
<rect x="395.4" y="1162.8" width="12.4" height="12.4" rx="2.5" fill="none" stroke="#f6e0c0" stroke-width="1.6"/><circle cx="401.6" cy="1169" r="2.9" fill="none" stroke="#f6e0c0" stroke-width="1.6"/><circle cx="405" cy="1165.6" r=".8" fill="#f6e0c0"/>
<circle cx="431" cy="1169" r="12.3" fill="#0c0c0c"/>
<path d="M432.2 1161.5v11.2a2.6 2.6 0 1 1-2.6-2.6" fill="none" stroke="#25d4de" stroke-width="2.2" transform="translate(-.8,-.6)"/><path d="M432.2 1161.5v11.2a2.6 2.6 0 1 1-2.6-2.6M432.2 1161.5c.4 2.2 1.8 3.4 4 3.6" fill="none" stroke="#f0285a" stroke-width="2.2" transform="translate(.7,.6)"/><path d="M432.2 1161.5v11.2a2.6 2.6 0 1 1-2.6-2.6M432.2 1161.5c.4 2.2 1.8 3.4 4 3.6" fill="none" stroke="#fff" stroke-width="1.6"/>
<circle cx="460.7" cy="1169" r="12.3" fill="url(#tgg)"/>
<path d="M453.5 1168.6l13.8-5.6-2.4 12.6-4-3.1-2.2 2.4.3-3.6 5.6-5.6-7 4.4z" fill="#fff"/>
<line x1="309.8" y1="1186.7" x2="463.5" y2="1186.7" stroke="#6a6a6a" stroke-width="1"/>
<line x1="309.8" y1="1206.2" x2="463.5" y2="1206.2" stroke="#8a8a8a" stroke-width="1"/>
<rect x="518.3" y="1170.8" width="1.6" height="16.4" fill="#2a2a2a"/>
<rect x="710.5" y="1168.9" width="1.6" height="18.4" fill="#2a2a2a"/>
<circle cx="593.1" cy="1155.4" r="9.2" fill="#fff"/><circle cx="593.1" cy="1155.4" r="8.4" fill="#e8652a"/><path d="M588 1156a5 5 0 0 1 9-3M590 1158a3 3 0 0 1 5-3.5M596 1159a6 6 0 0 1-7 1" fill="none" stroke="#f5c030" stroke-width="1.1"/>
<path d="M590 1157C578 1161 565.5 1169 565.5 1180C565.5 1190 573.5 1197 577.5 1206.5L580.5 1206.5C578.5 1198 573.5 1189 572.5 1182C576 1183 590 1185 599 1184.5C591 1181 578 1178 572.5 1176.5C573 1170 580 1163.5 591.5 1159.5Z" fill="#fff" stroke="#fff" stroke-width="2.4" stroke-linejoin="round"/>
<path d="M590 1157C578 1161 565.5 1169 565.5 1180C565.5 1190 573.5 1197 577.5 1206.5L580.5 1206.5C578.5 1198 573.5 1189 572.5 1182C576 1183 590 1185 599 1184.5C591 1181 578 1178 572.5 1176.5C573 1170 580 1163.5 591.5 1159.5Z" fill="#d8333a"/>
<circle cx="580.6" cy="1163.8" r="2.4" fill="#d8333a"/>
<line x1="593" y1="1194.4" x2="669.4" y2="1194.4" stroke="#8a8a8a" stroke-width=".8"/>
<line x1="778.0" y1="1168.2" x2="778.0" y2="1156.2" stroke="#f2c230" stroke-width="5.8"/>
<line x1="778.0" y1="1168.2" x2="778.0" y2="1156.2" stroke="#333" stroke-opacity=".35" stroke-width="5.8" stroke-dasharray="1 2"/>
<circle cx="778.0" cy="1153.7" r="1.6" fill="#f2c230"/>
<line x1="782.8" y1="1169.3" x2="788.0" y2="1158.5" stroke="#d8323a" stroke-width="5.8"/>
<line x1="782.8" y1="1169.3" x2="788.0" y2="1158.5" stroke="#333" stroke-opacity=".35" stroke-width="5.8" stroke-dasharray="1 2"/>
<circle cx="789.1" cy="1156.2" r="1.6" fill="#d8323a"/>
<line x1="786.6" y1="1172.3" x2="796.0" y2="1164.9" stroke="#2f55b0" stroke-width="5.8"/>
<line x1="786.6" y1="1172.3" x2="796.0" y2="1164.9" stroke="#333" stroke-opacity=".35" stroke-width="5.8" stroke-dasharray="1 2"/>
<circle cx="797.9" cy="1163.3" r="1.6" fill="#2f55b0"/>
<line x1="788.7" y1="1176.8" x2="800.4" y2="1174.1" stroke="#f2c230" stroke-width="5.8"/>
<line x1="788.7" y1="1176.8" x2="800.4" y2="1174.1" stroke="#333" stroke-opacity=".35" stroke-width="5.8" stroke-dasharray="1 2"/>
<circle cx="802.9" cy="1173.5" r="1.6" fill="#f2c230"/>
<line x1="788.7" y1="1181.6" x2="800.4" y2="1184.3" stroke="#d0d0d0" stroke-width="5.8"/>
<line x1="788.7" y1="1181.6" x2="800.4" y2="1184.3" stroke="#333" stroke-opacity=".35" stroke-width="5.8" stroke-dasharray="1 2"/>
<circle cx="802.9" cy="1184.9" r="1.6" fill="#d0d0d0"/>
<line x1="786.6" y1="1186.1" x2="796.0" y2="1193.5" stroke="#2f55b0" stroke-width="5.8"/>
<line x1="786.6" y1="1186.1" x2="796.0" y2="1193.5" stroke="#333" stroke-opacity=".35" stroke-width="5.8" stroke-dasharray="1 2"/>
<circle cx="797.9" cy="1195.1" r="1.6" fill="#2f55b0"/>
<line x1="782.8" y1="1189.1" x2="788.0" y2="1199.9" stroke="#d8323a" stroke-width="5.8"/>
<line x1="782.8" y1="1189.1" x2="788.0" y2="1199.9" stroke="#333" stroke-opacity=".35" stroke-width="5.8" stroke-dasharray="1 2"/>
<circle cx="789.1" cy="1202.2" r="1.6" fill="#d8323a"/>
<line x1="778.0" y1="1190.2" x2="778.0" y2="1202.2" stroke="#f2c230" stroke-width="5.8"/>
<line x1="778.0" y1="1190.2" x2="778.0" y2="1202.2" stroke="#333" stroke-opacity=".35" stroke-width="5.8" stroke-dasharray="1 2"/>
<circle cx="778.0" cy="1204.7" r="1.6" fill="#f2c230"/>
<line x1="773.2" y1="1189.1" x2="768.0" y2="1199.9" stroke="#d8323a" stroke-width="5.8"/>
<line x1="773.2" y1="1189.1" x2="768.0" y2="1199.9" stroke="#333" stroke-opacity=".35" stroke-width="5.8" stroke-dasharray="1 2"/>
<circle cx="766.9" cy="1202.2" r="1.6" fill="#d8323a"/>
<line x1="769.4" y1="1186.1" x2="760.0" y2="1193.5" stroke="#2f55b0" stroke-width="5.8"/>
<line x1="769.4" y1="1186.1" x2="760.0" y2="1193.5" stroke="#333" stroke-opacity=".35" stroke-width="5.8" stroke-dasharray="1 2"/>
<circle cx="758.1" cy="1195.1" r="1.6" fill="#2f55b0"/>
<line x1="767.3" y1="1181.6" x2="755.6" y2="1184.3" stroke="#f2c230" stroke-width="5.8"/>
<line x1="767.3" y1="1181.6" x2="755.6" y2="1184.3" stroke="#333" stroke-opacity=".35" stroke-width="5.8" stroke-dasharray="1 2"/>
<circle cx="753.1" cy="1184.9" r="1.6" fill="#f2c230"/>
<line x1="767.3" y1="1176.8" x2="755.6" y2="1174.1" stroke="#d0d0d0" stroke-width="5.8"/>
<line x1="767.3" y1="1176.8" x2="755.6" y2="1174.1" stroke="#333" stroke-opacity=".35" stroke-width="5.8" stroke-dasharray="1 2"/>
<circle cx="753.1" cy="1173.5" r="1.6" fill="#d0d0d0"/>
<line x1="769.4" y1="1172.3" x2="760.0" y2="1164.9" stroke="#2f55b0" stroke-width="5.8"/>
<line x1="769.4" y1="1172.3" x2="760.0" y2="1164.9" stroke="#333" stroke-opacity=".35" stroke-width="5.8" stroke-dasharray="1 2"/>
<circle cx="758.1" cy="1163.3" r="1.6" fill="#2f55b0"/>
<line x1="773.2" y1="1169.3" x2="768.0" y2="1158.5" stroke="#d8323a" stroke-width="5.8"/>
<line x1="773.2" y1="1169.3" x2="768.0" y2="1158.5" stroke="#333" stroke-opacity=".35" stroke-width="5.8" stroke-dasharray="1 2"/>
<circle cx="766.9" cy="1156.2" r="1.6" fill="#d8323a"/>
<defs><clipPath id="tgL"><path id="tgp" d="M1103.5 5.5C1108 6 1107.5 13 1103 15L1111 19.5 1110 24.5 1101 22.5C1097 28 1097.5 36 1102.5 42.5L1105 50.5 1097 53.5C1090 50.5 1085.5 44 1085.5 36 1084.5 27 1090 16 1096.5 9.5Z"/></clipPath></defs>
<path d="M1078.5 50l23 6.5 1.5 4 19 1.5 19-1.5 1.5-4 23-6.5-3.5 8-20 5.5-1.5 3.5-18.5 2-18.5-2-1.5-3.5-20-5.5z" fill="#f0d040"/>
<path d="M1085 56l14 4M1110 64h24M1145 60l14-4" stroke="#6a5a20" stroke-width=".8"/>
<g >
<path d="M1087 43C1080 39 1078.5 28 1082 19" fill="none" stroke="#e8704a" stroke-width="2.6" stroke-linecap="round"/>
<path d="M1081 24l3 1M1080.5 30l3 .5M1081 36l3-.5" stroke="#1a1010" stroke-width="1"/>
<path d="M1103.5 5.5C1108 6 1107.5 13 1103 15L1111 19.5 1110 24.5 1101 22.5C1097 28 1097.5 36 1102.5 42.5L1105 50.5 1097 53.5C1090 50.5 1085.5 44 1085.5 36 1084.5 27 1090 16 1096.5 9.5Z" fill="#e8704a"/>
<g clip-path="url(#tgL)" stroke="#1e1412" stroke-width="1.2">
<line x1="1083" y1="1" x2="1112" y2="8"/>
<line x1="1083" y1="5" x2="1112" y2="12"/>
<line x1="1083" y1="9" x2="1112" y2="16"/>
<line x1="1083" y1="13" x2="1112" y2="20"/>
<line x1="1083" y1="17" x2="1112" y2="24"/>
<line x1="1083" y1="21" x2="1112" y2="28"/>
<line x1="1083" y1="25" x2="1112" y2="32"/>
<line x1="1083" y1="29" x2="1112" y2="36"/>
<line x1="1083" y1="33" x2="1112" y2="40"/>
<line x1="1083" y1="37" x2="1112" y2="44"/>
<line x1="1083" y1="41" x2="1112" y2="48"/>
<line x1="1083" y1="45" x2="1112" y2="52"/>
<line x1="1083" y1="49" x2="1112" y2="56"/>
<line x1="1083" y1="53" x2="1112" y2="60"/>
</g>
<path d="M1099 40c3 4 5 8 4 12M1090 48c3 2 6 4 7 5" fill="none" stroke="#f0d040" stroke-width="1.4"/>
<path d="M1103.5 5.5C1108 6 1107.5 13 1103 15L1111 19.5 1110 24.5 1101 22.5C1097 28 1097.5 36 1102.5 42.5L1105 50.5 1097 53.5C1090 50.5 1085.5 44 1085.5 36 1084.5 27 1090 16 1096.5 9.5Z" fill="none" stroke="#2a1a14" stroke-width=".6"/>
<circle cx="1104" cy="9" r="1.4" fill="#fff"/>
</g>
<g transform="translate(2244,0) scale(-1,1)">
<path d="M1087 43C1080 39 1078.5 28 1082 19" fill="none" stroke="#e8704a" stroke-width="2.6" stroke-linecap="round"/>
<path d="M1081 24l3 1M1080.5 30l3 .5M1081 36l3-.5" stroke="#1a1010" stroke-width="1"/>
<path d="M1103.5 5.5C1108 6 1107.5 13 1103 15L1111 19.5 1110 24.5 1101 22.5C1097 28 1097.5 36 1102.5 42.5L1105 50.5 1097 53.5C1090 50.5 1085.5 44 1085.5 36 1084.5 27 1090 16 1096.5 9.5Z" fill="#e8704a"/>
<g clip-path="url(#tgL)" stroke="#1e1412" stroke-width="1.2">
<line x1="1083" y1="1" x2="1112" y2="8"/>
<line x1="1083" y1="5" x2="1112" y2="12"/>
<line x1="1083" y1="9" x2="1112" y2="16"/>
<line x1="1083" y1="13" x2="1112" y2="20"/>
<line x1="1083" y1="17" x2="1112" y2="24"/>
<line x1="1083" y1="21" x2="1112" y2="28"/>
<line x1="1083" y1="25" x2="1112" y2="32"/>
<line x1="1083" y1="29" x2="1112" y2="36"/>
<line x1="1083" y1="33" x2="1112" y2="40"/>
<line x1="1083" y1="37" x2="1112" y2="44"/>
<line x1="1083" y1="41" x2="1112" y2="48"/>
<line x1="1083" y1="45" x2="1112" y2="52"/>
<line x1="1083" y1="49" x2="1112" y2="56"/>
<line x1="1083" y1="53" x2="1112" y2="60"/>
</g>
<path d="M1099 40c3 4 5 8 4 12M1090 48c3 2 6 4 7 5" fill="none" stroke="#f0d040" stroke-width="1.4"/>
<path d="M1103.5 5.5C1108 6 1107.5 13 1103 15L1111 19.5 1110 24.5 1101 22.5C1097 28 1097.5 36 1102.5 42.5L1105 50.5 1097 53.5C1090 50.5 1085.5 44 1085.5 36 1084.5 27 1090 16 1096.5 9.5Z" fill="none" stroke="#2a1a14" stroke-width=".6"/>
<circle cx="1104" cy="9" r="1.4" fill="#fff"/>
</g>
<path d="M1112.8 5.96A9.5 9.5 0 1 0 1130.8 5.96A9 9 0 0 1 1112.8 5.96Z" fill="#f0d040"/>
<path d="M1121.8 0.6 L1122.5 4.6 L1124.9 1.3 L1123.9 5.2 L1127.4 3.3 L1124.8 6.4 L1128.8 6.2 L1125.1 7.8 L1128.8 9.4 L1124.8 9.2 L1127.4 12.3 L1123.9 10.4 L1124.9 14.3 L1122.5 11.0 L1121.8 15.0 L1121.1 11.0 L1118.7 14.3 L1119.7 10.4 L1116.2 12.3 L1118.8 9.2 L1114.8 9.4 L1118.5 7.8 L1114.8 6.2 L1118.8 6.4 L1116.2 3.3 L1119.7 5.2 L1118.7 1.3 L1121.1 4.6z" fill="#f2d43a"/>
<path d="M1105 20.8h34v26c0 5-8 9-17 10-9-1-17-5-17-10z" fill="#fff"/>
<rect x="1105" y="20.8" width="34" height="9.3" fill="#e03a30"/>
<path d="M1110.5 21v9M1116 21v9M1121.8 21v9M1127 21v9M1132.8 21v9" stroke="#c8a030" stroke-width="1"/>
<rect x="1110.3" y="30" width="5.8" height="12.6" fill="#e03a30"/><rect x="1116" y="30" width="5.8" height="12.6" fill="#1a1a1a"/><rect x="1127" y="30" width="5.8" height="12.6" fill="#f0d040"/>
<path d="M1132.8 42.6h6.2v4c0 3-3 6-7 8z" fill="#3aa04a"/><circle cx="1135.5" cy="35" r="2.2" fill="#3aa04a"/><circle cx="1108" cy="35" r="1.6" fill="#2a6a40"/><path d="M1105 42.6h5.3v3h-5.3z" fill="#f0d040"/><path d="M1105.5 46h4.5l-1 5z" fill="#6ab0e0"/>
<circle cx="1114.5" cy="48" r="2.3" fill="#3a70c0"/><circle cx="1122" cy="48" r="2.8" fill="#d82828"/><path d="M1127.5 45l1.5 5 1.5-5 1.5 5" fill="none" stroke="#b09040" stroke-width=".8"/>
<path d="M1105 20.8h34v26c0 5-8 9-17 10-9-1-17-5-17-10z" fill="none" stroke="#333" stroke-width=".5"/>
</svg>
<div class="t" style="left:16.4px;top:26.8px;-webkit-text-stroke:1.13px currentColor;font-size:51.3px;font-weight:bold;color:#0c0c0c;font-style:normal;transform:scaleX(0.921);letter-spacing:0px;">STATUS VAKSINASI KES COVID&#8211;19</div>
<div class="t" style="left:14.8px;top:75.8px;-webkit-text-stroke:1.12px currentColor;font-size:50.72px;font-weight:bold;color:#0c0c0c;font-style:normal;transform:scaleX(1.008);letter-spacing:0px;">HARIAN MENGIKUT KATEGORI</div>
<div class="t" style="left:851.3px;top:32.3px;-webkit-text-stroke:0.93px currentColor;font-size:42.17px;font-weight:bold;color:#0c0c0c;font-style:normal;transform:scaleX(0.913);letter-spacing:0px;">31 OGOS</div>
<div class="t" style="left:849.9px;top:68.7px;-webkit-text-stroke:1.38px currentColor;font-size:62.75px;font-weight:bold;color:#0c0c0c;font-style:normal;transform:scaleX(1.037);letter-spacing:0px;">2021</div>
<div class="t" style="left:1076.9px;top:71.9px;-webkit-text-stroke:0.38px currentColor;font-size:17.1px;font-weight:bold;color:#1a1a1a;font-style:normal;transform:scaleX(0.866);letter-spacing:0px;">Kementerian</div>
<div class="t" style="left:1086.4px;top:88.4px;-webkit-text-stroke:0.37px currentColor;font-size:16.81px;font-weight:bold;color:#1a1a1a;font-style:normal;transform:scaleX(0.881);letter-spacing:0px;">Kesihatan</div>
<div class="t" style="left:1090.4px;top:105.5px;-webkit-text-stroke:0.37px currentColor;font-size:16.81px;font-weight:bold;color:#1a1a1a;font-style:normal;transform:scaleX(0.888);letter-spacing:0px;">Malaysia</div>
<div class="t" style="left:46.7px;top:339.2px;-webkit-text-stroke:0.71px currentColor;font-size:32.46px;font-weight:bold;color:#ffffff;font-style:normal;transform:scaleX(0.913);letter-spacing:0px;">KATEGORI&nbsp; 5</div>
<div class="t" style="left:277.2px;top:339.2px;-webkit-text-stroke:0.71px currentColor;font-size:32.46px;font-weight:bold;color:#ffffff;font-style:normal;transform:scaleX(0.914);letter-spacing:0px;">KATEGORI&nbsp; 4</div>
<div class="t" style="left:505.1px;top:339.2px;-webkit-text-stroke:0.71px currentColor;font-size:32.46px;font-weight:bold;color:#ffffff;font-style:normal;transform:scaleX(0.908);letter-spacing:0px;">KATEGORI&nbsp; 3</div>
<div class="t" style="left:733.0px;top:339.2px;-webkit-text-stroke:0.71px currentColor;font-size:32.46px;font-weight:bold;color:#ffffff;font-style:normal;transform:scaleX(0.903);letter-spacing:0px;">KATEGORI&nbsp; 2</div>
<div class="t" style="left:960.5px;top:339.2px;-webkit-text-stroke:0.71px currentColor;font-size:32.46px;font-weight:bold;color:#ffffff;font-style:normal;transform:scaleX(0.883);letter-spacing:0px;">KATEGORI&nbsp; 1</div>
<div class="t" style="left:60.8px;top:385.9px;-webkit-text-stroke:0.46px currentColor;font-size:20.87px;font-weight:bold;color:#1d1d1d;font-style:normal;transform:scaleX(1.051);letter-spacing:0px;">Kritikal &amp; perlu</div>
<div class="t" style="left:93.2px;top:410.0px;-webkit-text-stroke:0.46px currentColor;font-size:20.87px;font-weight:bold;color:#1d1d1d;font-style:normal;transform:scaleX(1.127);letter-spacing:0px;">bantuan</div>
<div class="t" style="left:72.6px;top:434.8px;-webkit-text-stroke:0.46px currentColor;font-size:20.87px;font-weight:bold;color:#1d1d1d;font-style:normal;transform:scaleX(1.100);letter-spacing:0px;">pernafasan:</div>
<div class="t" style="left:50.3px;top:460.4px;font-size:20.87px;font-weight:normal;color:#272c84;font-style:normal;transform:scaleX(1.155);letter-spacing:0px;-webkit-text-stroke:0.5px currentColor;">Purata jagaan di</div>
<div class="t" style="left:45.5px;top:484.5px;font-size:20.87px;font-weight:normal;color:#272c84;font-style:normal;transform:scaleX(1.065);letter-spacing:0px;-webkit-text-stroke:0.5px currentColor;">ICU selama 21 hari</div>
<div class="t" style="left:267.4px;top:386.4px;-webkit-text-stroke:0.46px currentColor;font-size:20.87px;font-weight:bold;color:#1d1d1d;font-style:normal;transform:scaleX(1.113);letter-spacing:0px;">Radang paru-paru</div>
<div class="t" style="left:281.1px;top:410.6px;-webkit-text-stroke:0.46px currentColor;font-size:20.87px;font-weight:bold;color:#1d1d1d;font-style:normal;transform:scaleX(1.080);letter-spacing:0px;">&amp; perlu bantuan</div>
<div class="t" style="left:324.9px;top:435.5px;-webkit-text-stroke:0.46px currentColor;font-size:20.87px;font-weight:bold;color:#1d1d1d;font-style:normal;transform:scaleX(1.052);letter-spacing:0px;">oksigen:</div>
<div class="t" style="left:282.0px;top:460.4px;font-size:20.87px;font-weight:normal;color:#272c84;font-style:normal;transform:scaleX(1.152);letter-spacing:0px;-webkit-text-stroke:0.5px currentColor;">Purata jagaan di</div>
<div class="t" style="left:272.6px;top:484.5px;font-size:20.87px;font-weight:normal;color:#272c84;font-style:normal;transform:scaleX(1.081);letter-spacing:0px;-webkit-text-stroke:0.5px currentColor;">ICU selama 14 hari</div>
<div class="t" style="left:494.1px;top:388.3px;-webkit-text-stroke:0.43px currentColor;font-size:19.71px;font-weight:bold;color:#1d1d1d;font-style:normal;transform:scaleX(1.176);letter-spacing:0px;">Radang paru-paru:</div>
<div class="t" style="left:531.8px;top:420.1px;font-size:18.41px;font-weight:normal;color:#272c84;font-style:normal;transform:scaleX(1.216);letter-spacing:0px;-webkit-text-stroke:0.5px currentColor;">Memerlukan</div>
<div class="t" style="left:529.8px;top:443.3px;font-size:18.41px;font-weight:normal;color:#272c84;font-style:normal;transform:scaleX(1.257);letter-spacing:0px;-webkit-text-stroke:0.5px currentColor;">rawatan dan</div>
<div class="t" style="left:529.4px;top:466.5px;font-size:18.41px;font-weight:normal;color:#272c84;font-style:normal;transform:scaleX(1.252);letter-spacing:0px;-webkit-text-stroke:0.5px currentColor;">pemerhatian</div>
<div class="t" style="left:542.6px;top:489.6px;font-size:18.41px;font-weight:normal;color:#272c84;font-style:normal;transform:scaleX(1.228);letter-spacing:0px;-webkit-text-stroke:0.5px currentColor;">di hospital</div>
<div class="t" style="left:732.7px;top:429.6px;-webkit-text-stroke:0.47px currentColor;font-size:21.16px;font-weight:bold;color:#1d1d1d;font-style:normal;transform:scaleX(1.066);letter-spacing:0px;">Bergejala ringan</div>
<div class="t" style="left:965.8px;top:429.6px;-webkit-text-stroke:0.47px currentColor;font-size:21.16px;font-weight:bold;color:#1d1d1d;font-style:normal;transform:scaleX(1.053);letter-spacing:0px;">Tidak bergejala</div>
<div class="t" style="left:66.6px;top:889.2px;-webkit-text-stroke:0.40px currentColor;font-size:18.26px;font-weight:bold;color:#1d1d1d;font-style:normal;transform:scaleX(0.972);letter-spacing:0px;">15.2%</div>
<div class="t" style="left:138.6px;top:874.0px;-webkit-text-stroke:0.40px currentColor;font-size:18.26px;font-weight:bold;color:#1d1d1d;font-style:normal;transform:scaleX(1.108);letter-spacing:0px;">84.8%</div>
<div class="t" style="left:297.3px;top:883.1px;-webkit-text-stroke:0.40px currentColor;font-size:18.26px;font-weight:bold;color:#1d1d1d;font-style:normal;transform:scaleX(1.092);letter-spacing:0px;">44.5%</div>
<div class="t" style="left:370.2px;top:876.0px;-webkit-text-stroke:0.40px currentColor;font-size:18.26px;font-weight:bold;color:#1d1d1d;font-style:normal;transform:scaleX(1.082);letter-spacing:0px;">55.5%</div>
<div class="t" style="left:522.9px;top:888.8px;-webkit-text-stroke:0.40px currentColor;font-size:18.26px;font-weight:bold;color:#1d1d1d;font-style:normal;transform:scaleX(0.988);letter-spacing:0px;">21.4%</div>
<div class="t" style="left:595.9px;top:849.8px;-webkit-text-stroke:0.40px currentColor;font-size:18.26px;font-weight:bold;color:#1d1d1d;font-style:normal;transform:scaleX(1.046);letter-spacing:0px;">78.6%</div>
<div class="t" style="left:756.0px;top:780.1px;-webkit-text-stroke:0.40px currentColor;font-size:18.26px;font-weight:bold;color:#1d1d1d;font-style:normal;transform:scaleX(1.064);letter-spacing:0px;">24.2%</div>
<div class="t" style="left:829.6px;top:594.2px;-webkit-text-stroke:0.40px currentColor;font-size:18.26px;font-weight:bold;color:#1d1d1d;font-style:normal;transform:scaleX(1.064);letter-spacing:0px;">75.8%</div>
<div class="t" style="left:986.7px;top:798.7px;-webkit-text-stroke:0.40px currentColor;font-size:18.26px;font-weight:bold;color:#1d1d1d;font-style:normal;transform:scaleX(1.070);letter-spacing:0px;">29.8%</div>
<div class="t" style="left:1060.2px;top:668.8px;-webkit-text-stroke:0.40px currentColor;font-size:18.26px;font-weight:bold;color:#1d1d1d;font-style:normal;transform:scaleX(1.038);letter-spacing:0px;">70.2%</div>
<div class="t" style="left:77.0px;top:924.9px;-webkit-text-stroke:0.60px currentColor;font-size:27.25px;font-weight:bold;color:#1d1d1d;font-style:normal;transform:scaleX(0.844);letter-spacing:0px;">12</div>
<div class="t" style="left:147.5px;top:924.9px;-webkit-text-stroke:0.60px currentColor;font-size:27.25px;font-weight:bold;color:#1d1d1d;font-style:normal;transform:scaleX(0.975);letter-spacing:0px;">67</div>
<div class="t" style="left:308.8px;top:924.9px;-webkit-text-stroke:0.60px currentColor;font-size:27.25px;font-weight:bold;color:#1d1d1d;font-style:normal;transform:scaleX(0.972);letter-spacing:0px;">53</div>
<div class="t" style="left:382.8px;top:924.9px;-webkit-text-stroke:0.60px currentColor;font-size:27.25px;font-weight:bold;color:#1d1d1d;font-style:normal;transform:scaleX(1.007);letter-spacing:0px;">66</div>
<div class="t" style="left:536.0px;top:924.9px;-webkit-text-stroke:0.60px currentColor;font-size:27.25px;font-weight:bold;color:#1d1d1d;font-style:normal;transform:scaleX(1.023);letter-spacing:0px;">48</div>
<div class="t" style="left:602.0px;top:924.9px;-webkit-text-stroke:0.60px currentColor;font-size:27.25px;font-weight:bold;color:#1d1d1d;font-style:normal;transform:scaleX(0.840);letter-spacing:0px;">176</div>
<div class="t" style="left:750.4px;top:924.9px;-webkit-text-stroke:0.60px currentColor;font-size:27.25px;font-weight:bold;color:#1d1d1d;font-style:normal;transform:scaleX(0.964);letter-spacing:0px;">2,932</div>
<div class="t" style="left:822.3px;top:924.9px;-webkit-text-stroke:0.60px currentColor;font-size:27.25px;font-weight:bold;color:#1d1d1d;font-style:normal;transform:scaleX(0.987);letter-spacing:0px;">9,204</div>
<div class="t" style="left:981.5px;top:924.9px;-webkit-text-stroke:0.60px currentColor;font-size:27.25px;font-weight:bold;color:#1d1d1d;font-style:normal;transform:scaleX(0.913);letter-spacing:0px;">2,481</div>
<div class="t" style="left:1052.3px;top:924.9px;-webkit-text-stroke:0.60px currentColor;font-size:27.25px;font-weight:bold;color:#1d1d1d;font-style:normal;transform:scaleX(1.023);letter-spacing:0px;">5,858</div>
<div class="t" style="left:80.7px;top:959.0px;-webkit-text-stroke:0.30px currentColor;font-size:13.62px;font-weight:bold;color:#ffffff;font-style:normal;transform:scaleX(0.969);letter-spacing:0px;">JUMLAH KES</div>
<div class="t" style="left:311.7px;top:959.0px;-webkit-text-stroke:0.30px currentColor;font-size:13.62px;font-weight:bold;color:#ffffff;font-style:normal;transform:scaleX(0.969);letter-spacing:0px;">JUMLAH KES</div>
<div class="t" style="left:540.5px;top:959.0px;-webkit-text-stroke:0.30px currentColor;font-size:13.62px;font-weight:bold;color:#ffffff;font-style:normal;transform:scaleX(0.971);letter-spacing:0px;">JUMLAH KES</div>
<div class="t" style="left:773.0px;top:959.0px;-webkit-text-stroke:0.30px currentColor;font-size:13.62px;font-weight:bold;color:#ffffff;font-style:normal;transform:scaleX(0.977);letter-spacing:0px;">JUMLAH KES</div>
<div class="t" style="left:1004.3px;top:959.0px;-webkit-text-stroke:0.30px currentColor;font-size:13.62px;font-weight:bold;color:#ffffff;font-style:normal;transform:scaleX(0.972);letter-spacing:0px;">JUMLAH KES</div>
<div class="t" style="left:86.8px;top:989.9px;-webkit-text-stroke:0.60px currentColor;font-size:27.39px;font-weight:bold;color:#1d1d1d;font-style:normal;transform:scaleX(0.969);letter-spacing:0px;">79</div>
<div class="t" style="left:116.3px;top:989.7px;-webkit-text-stroke:0.50px currentColor;font-size:22.9px;font-weight:bold;color:#1d1d1d;font-style:normal;transform:scaleX(1.067);letter-spacing:0px;">(</div>
<div class="t" style="left:167.9px;top:989.7px;-webkit-text-stroke:0.50px currentColor;font-size:22.9px;font-weight:bold;color:#1d1d1d;font-style:normal;transform:scaleX(0.914);letter-spacing:0px;">)</div>
<div class="t" style="left:124.2px;top:995.3px;-webkit-text-stroke:0.40px currentColor;font-size:18.12px;font-weight:bold;color:#1d1d1d;font-style:normal;transform:scaleX(1.032);letter-spacing:0px;">0.4%</div>
<div class="t" style="left:308.3px;top:989.9px;-webkit-text-stroke:0.60px currentColor;font-size:27.39px;font-weight:bold;color:#1d1d1d;font-style:normal;transform:scaleX(0.768);letter-spacing:0px;">119</div>
<div class="t" style="left:343.3px;top:989.7px;-webkit-text-stroke:0.50px currentColor;font-size:22.9px;font-weight:bold;color:#1d1d1d;font-style:normal;transform:scaleX(1.067);letter-spacing:0px;">(</div>
<div class="t" style="left:394.9px;top:989.7px;-webkit-text-stroke:0.50px currentColor;font-size:22.9px;font-weight:bold;color:#1d1d1d;font-style:normal;transform:scaleX(0.914);letter-spacing:0px;">)</div>
<div class="t" style="left:351.2px;top:995.3px;-webkit-text-stroke:0.40px currentColor;font-size:18.12px;font-weight:bold;color:#1d1d1d;font-style:normal;transform:scaleX(1.033);letter-spacing:0px;">0.6%</div>
<div class="t" style="left:539.8px;top:989.9px;-webkit-text-stroke:0.60px currentColor;font-size:27.39px;font-weight:bold;color:#1d1d1d;font-style:normal;transform:scaleX(0.978);letter-spacing:0px;">224</div>
<div class="t" style="left:584.5px;top:989.7px;-webkit-text-stroke:0.50px currentColor;font-size:22.9px;font-weight:bold;color:#1d1d1d;font-style:normal;transform:scaleX(1.067);letter-spacing:0px;">(</div>
<div class="t" style="left:630.2px;top:989.7px;-webkit-text-stroke:0.50px currentColor;font-size:22.9px;font-weight:bold;color:#1d1d1d;font-style:normal;transform:scaleX(0.914);letter-spacing:0px;">)</div>
<div class="t" style="left:592.5px;top:995.3px;-webkit-text-stroke:0.40px currentColor;font-size:18.12px;font-weight:bold;color:#1d1d1d;font-style:normal;transform:scaleX(0.885);letter-spacing:0px;">1.0%</div>
<div class="t" style="left:750.7px;top:989.9px;-webkit-text-stroke:0.60px currentColor;font-size:27.39px;font-weight:bold;color:#1d1d1d;font-style:normal;transform:scaleX(0.833);letter-spacing:0px;">12,136</div>
<div class="t" style="left:822.9px;top:989.7px;-webkit-text-stroke:0.50px currentColor;font-size:22.9px;font-weight:bold;color:#1d1d1d;font-style:normal;transform:scaleX(1.067);letter-spacing:0px;">(</div>
<div class="t" style="left:879.6px;top:989.7px;-webkit-text-stroke:0.50px currentColor;font-size:22.9px;font-weight:bold;color:#1d1d1d;font-style:normal;transform:scaleX(0.914);letter-spacing:0px;">)</div>
<div class="t" style="left:830.9px;top:995.3px;-webkit-text-stroke:0.40px currentColor;font-size:18.12px;font-weight:bold;color:#1d1d1d;font-style:normal;transform:scaleX(0.928);letter-spacing:0px;">58.1%</div>
<div class="t" style="left:981.0px;top:989.9px;-webkit-text-stroke:0.60px currentColor;font-size:27.39px;font-weight:bold;color:#1d1d1d;font-style:normal;transform:scaleX(0.988);letter-spacing:0px;">8,339</div>
<div class="t" style="left:1051.3px;top:989.7px;-webkit-text-stroke:0.50px currentColor;font-size:22.9px;font-weight:bold;color:#1d1d1d;font-style:normal;transform:scaleX(1.067);letter-spacing:0px;">(</div>
<div class="t" style="left:1110.9px;top:989.7px;-webkit-text-stroke:0.50px currentColor;font-size:22.9px;font-weight:bold;color:#1d1d1d;font-style:normal;transform:scaleX(0.914);letter-spacing:0px;">)</div>
<div class="t" style="left:1059.2px;top:995.3px;-webkit-text-stroke:0.40px currentColor;font-size:18.12px;font-weight:bold;color:#1d1d1d;font-style:normal;transform:scaleX(0.986);letter-spacing:0px;">39.9%</div>
<div class="t" style="left:95.8px;top:1070.5px;font-size:15.36px;font-weight:normal;color:#1b1b1b;font-style:normal;transform:scaleX(1.112);letter-spacing:0px;-webkit-text-stroke:0.15px currentColor;">Lengkap Vaksinasi (2 Minggu Selepas Dos Kedua)</div>
<div class="t" style="left:96.9px;top:1106.4px;font-size:15.36px;font-weight:normal;color:#1b1b1b;font-style:normal;transform:scaleX(1.140);letter-spacing:0px;-webkit-text-stroke:0.15px currentColor;">Tiada/Tidak Lengkap Vaksinasi</div>
<div class="t" style="left:735.9px;top:1066.3px;-webkit-text-stroke:0.58px currentColor;font-size:26.38px;font-weight:bold;color:#ffffff;font-style:normal;transform:scaleX(0.976);letter-spacing:0px;">JUMLAH KES HARIAN : 20,897</div>
<div class="t" style="left:1035.0px;top:1191.2px;font-size:15.8px;font-weight:normal;color:#1b1b1b;font-style:normal;transform:scaleX(0.908);letter-spacing:0px;">Sumber : CPRC, KKM</div>
<div class="t" style="left:316.8px;top:1190.1px;-webkit-text-stroke:0.29px currentColor;font-size:13.4px;font-weight:bold;color:#1b1b1b;font-style:normal;transform:scaleX(1.181);letter-spacing:3px;">myhealthkkm</div>
<div class="t" style="left:587.0px;top:1166.6px;-webkit-text-stroke:0.32px currentColor;font-size:14.5px;font-weight:bold;color:#2b3a8f;font-family:&quot;Liberation Serif&quot;,serif;font-style:normal;transform:scaleX(1.025);letter-spacing:0px;">My</div>
<div class="t" style="left:607.9px;top:1166.6px;-webkit-text-stroke:0.32px currentColor;font-size:14.5px;font-weight:bold;color:#d8333a;font-family:&quot;Liberation Serif&quot;,serif;font-style:normal;transform:scaleX(1.102);letter-spacing:0px;">HEALTH</div>
<div class="t" style="left:658.0px;top:1181.9px;font-size:7.5px;font-weight:normal;color:#3aa0e0;font-style:italic;transform:scaleX(1.080);letter-spacing:0px;font-style:italic;">for life</div>
<div class="t" style="left:594.8px;top:1196.8px;-webkit-text-stroke:0.15px currentColor;font-size:7px;font-weight:bold;color:#1b1b1b;font-style:normal;transform:scaleX(0.980);letter-spacing:0px;">www.myhealth.gov.my</div>
<div class="t" style="left:807.1px;top:1157.2px;font-size:13px;font-weight:normal;color:#1b1b1b;font-style:normal;transform:scaleX(1.075);letter-spacing:0px;-webkit-text-stroke:.45px #1b1b1b;">Bersama</div>
<div class="t" style="left:807.1px;top:1167.2px;font-size:13px;font-weight:normal;color:#1b1b1b;font-style:normal;transform:scaleX(1.096);letter-spacing:0px;-webkit-text-stroke:.45px #1b1b1b;">Hentikan</div>
<div class="t" style="left:808.2px;top:1178.5px;font-size:13px;font-weight:normal;color:#1b1b1b;font-style:normal;transform:scaleX(1.070);letter-spacing:0px;-webkit-text-stroke:.45px #1b1b1b;">Wabak</div>
<div class="t" style="left:807.1px;top:1189.7px;font-size:13px;font-weight:normal;color:#1b1b1b;font-style:normal;transform:scaleX(1.064);letter-spacing:0px;-webkit-text-stroke:.45px #1b1b1b;">COVID&#8211;19</div>
</body></html>
